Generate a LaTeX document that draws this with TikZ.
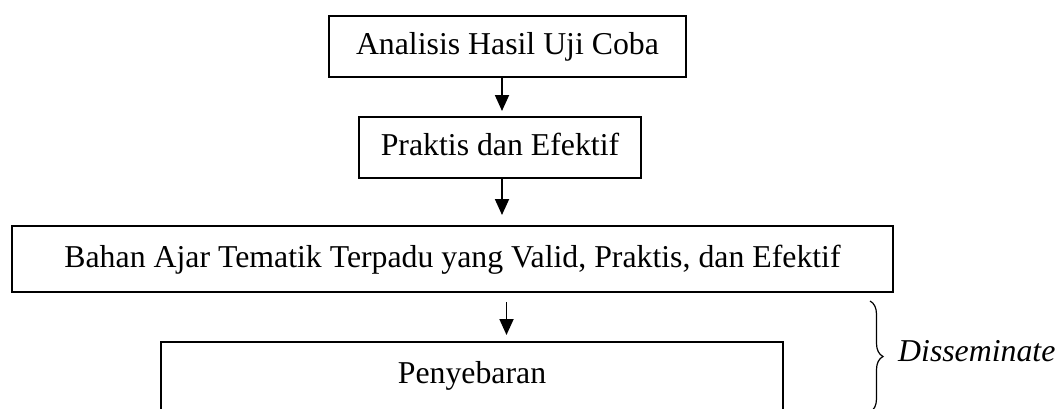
\documentclass[tikz,border=0pt]{standalone}
\usepackage{fontspec}
\setmainfont{Liberation Serif}
\usetikzlibrary{arrows.meta,decorations.pathreplacing}
\begin{document}
\begin{tikzpicture}[x=1pt,y=-1pt,
  boxnode/.style={draw=black,line width=1.6pt,inner sep=0pt,
    font=\fontsize{31.8}{38}\selectfont,text height=24pt,text depth=8pt},
  arr/.style={line width=1.8pt,-{Triangle[length=16pt,width=14pt]}}]
\useasboundingbox (0,0) rectangle (1061,408);
\node[boxnode,minimum width=357pt,minimum height=61pt] (b1) at (507.5,46.5) {Analisis Hasil Uji Coba};
\node[boxnode,minimum width=282pt,minimum height=61pt] (b2) at (500,147.5) {Praktis dan Efektif};
\node[boxnode,minimum width=881pt,minimum height=66pt] (b3) at (452.5,259) {Bahan Ajar Tematik Terpadu yang Valid, Praktis, dan Efektif};
\node[boxnode,minimum width=622pt,minimum height=72pt,text depth=13pt] (b4) at (472,378) {Penyebaran};
\coordinate (t1) at (502,111);
\coordinate (t2) at (502,215);
\coordinate (s3) at (506.5,302);
\coordinate (t3) at (506.5,335);
\draw[arr] (t1 |- b1.south) -- (t1);
\draw[arr] (t2 |- b2.south) -- (t2);
\draw[arr] (s3) -- (t3);
\coordinate (bt) at (870,301);
\coordinate (bb) at (870,412);
\draw[line width=1.2pt,decorate,decoration={brace,amplitude=13pt}] (bt) -- (bb);
\node[anchor=base west,inner sep=0pt,font=\fontsize{31.8}{38}\selectfont\itshape] (dis) at (898,361) {Disseminate};
\end{tikzpicture}
\end{document}
